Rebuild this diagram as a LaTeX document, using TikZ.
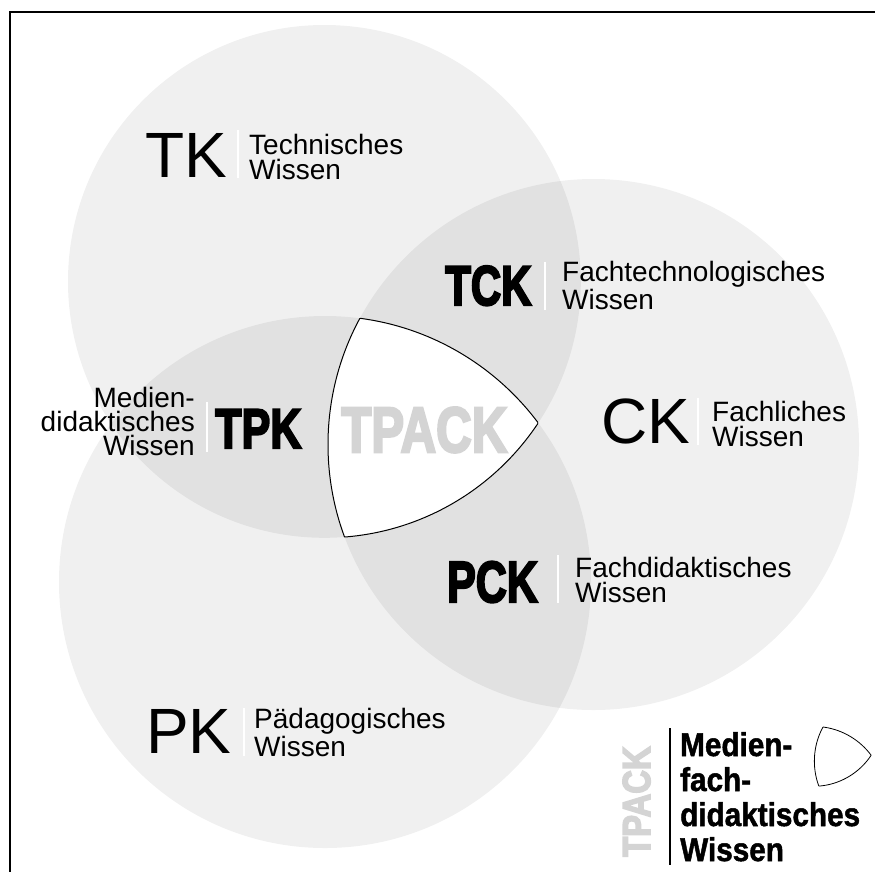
\documentclass[tikz,border=0pt]{standalone}
\usepackage{fontspec}
\usepackage{graphicx}
\setmainfont{Liberation Sans}
\newfontfamily\heavy[FakeBold=4]{Liberation Sans Bold}
\newfontfamily\legendfont[FakeBold=1.5]{Liberation Sans Bold}
\newcommand{\condtxt}[2]{\scalebox{#1}[1]{\heavy #2}}
\definecolor{tpackgray}{gray}{0.83}
\begin{document}
\begin{tikzpicture}[x=1pt,y=-1pt,
  desc/.style={inner sep=0pt, align=left, anchor=base west, font=\fontsize{28}{25}\selectfont},
  descr/.style={inner sep=0pt, align=right, anchor=base east, font=\fontsize{28}{24}\selectfont},
  abbr/.style={inner sep=0pt, anchor=base west, font=\fontsize{64}{64}\selectfont},
  boldabbr/.style={inner sep=0pt, anchor=base west},
  legendtxt/.style={inner sep=0pt, align=left, anchor=base west, font=\fontsize{33}{35}\selectfont\legendfont},
  sepbar/.style={white, line width=2pt},
  venn/.style={fill=black, fill opacity=0.06},
  outline/.style={draw=black, line width=1pt}
]
\useasboundingbox (0,0) rectangle (875,871);
\fill[white] (0,0) rectangle (875,871);
\draw[line width=1.6pt] (10,12) rectangle (920,920);

% circles
\coordinate (cT) at (324.4,281.4);
\coordinate (cC) at (593.5,444.5);
\coordinate (cP) at (325,582);
\fill[venn] (cT) circle[radius=256.4pt];
\fill[venn] (cC) circle[radius=265.5pt];
\fill[venn] (cP) circle[radius=266pt];

% triple intersection
\begin{scope}
  \clip (cT) circle[radius=256.4pt];
  \clip (cC) circle[radius=265.5pt];
  \fill[white] (cP) circle[radius=266pt];
\end{scope}
\begin{scope}
  \clip (cT) circle[radius=256.4pt];
  \clip (cC) circle[radius=265.5pt];
  \draw[outline] (cP) circle[radius=266pt];
\end{scope}
\begin{scope}
  \clip (cT) circle[radius=256.4pt];
  \clip (cP) circle[radius=266pt];
  \draw[outline] (cC) circle[radius=265.5pt];
\end{scope}
\begin{scope}
  \clip (cC) circle[radius=265.5pt];
  \clip (cP) circle[radius=266pt];
  \draw[outline] (cT) circle[radius=256.4pt];
\end{scope}

% small legend shape
\coordinate (sT) at (813.39,717.08);
\coordinate (sC) at (886.05,761.12);
\coordinate (sP) at (813.6,798.2);
\begin{scope}
  \clip (sT) circle[radius=69.23pt];
  \clip (sC) circle[radius=71.69pt];
  \fill[white] (sP) circle[radius=71.82pt];
\end{scope}
\begin{scope}
  \clip (sT) circle[radius=69.23pt];
  \clip (sC) circle[radius=71.69pt];
  \draw[outline, line width=0.8pt] (sP) circle[radius=71.82pt];
\end{scope}
\begin{scope}
  \clip (sT) circle[radius=69.23pt];
  \clip (sP) circle[radius=71.82pt];
  \draw[outline, line width=0.8pt] (sC) circle[radius=71.69pt];
\end{scope}
\begin{scope}
  \clip (sC) circle[radius=71.69pt];
  \clip (sP) circle[radius=71.82pt];
  \draw[outline, line width=0.8pt] (sT) circle[radius=69.23pt];
\end{scope}

% TK
\node[abbr] (tk) at (145,177) {TK};
\draw[sepbar] (238,130) -- (238,178);
\node[desc] (tkd) at (249,179) {Technisches\\Wissen};

% CK
\node[abbr] (ck) at (601,443) {CK};
\draw[sepbar] (698,398) -- (698,445);
\node[desc] (ckd) at (712,446) {Fachliches\\Wissen};

% PK
\node[abbr] (pk) at (146,753) {PK};
\draw[sepbar] (244,708) -- (244,756);
\node[desc] (pkd) at (254,756) {Pädagogisches\\Wissen};

% TCK
\node[boldabbr] (tck) at (445,305) {\fontsize{56}{56}\selectfont\condtxt{0.75}{TCK}};
\draw[sepbar] (545,262) -- (545,310);
\node[desc] (tckd) at (562,309) {Fachtechnologisches\\Wissen};

% PCK
\node[boldabbr] (pck) at (447,602) {\fontsize{58}{58}\selectfont\condtxt{0.74}{PCK}};
\draw[sepbar] (558,555) -- (558,603);
\node[desc] (pckd) at (575,602) {Fachdidaktisches\\Wissen};

% TPK
\node[boldabbr] (tpk) at (215,448) {\fontsize{56}{56}\selectfont\condtxt{0.77}{TPK}};
\draw[sepbar] (207,402) -- (207,452);
\node[descr] (tpkd) at (195,455) {Medien-\\didaktisches\\Wissen};

% TPACK
\node[boldabbr, text=tpackgray] (tpack) at (341,452) {\fontsize{64}{64}\selectfont\condtxt{0.77}{TPACK}};

% legend
\node[boldabbr, text=tpackgray, rotate=90] (ltpack) at (650,857) {\fontsize{39}{39}\selectfont\condtxt{0.84}{TPACK}};
\coordinate (lt) at (670,728);
\coordinate (lb) at (670,865);
\draw[line width=1.5pt] (lt) -- (lb);
\node[legendtxt] (ltxt) at (680,861) {\scalebox{0.9}[1]{Medien-}\\\scalebox{0.9}[1]{fach-}\\\scalebox{0.9}[1]{didaktisches}\\\scalebox{0.9}[1]{Wissen}};
\end{tikzpicture}
\end{document}
